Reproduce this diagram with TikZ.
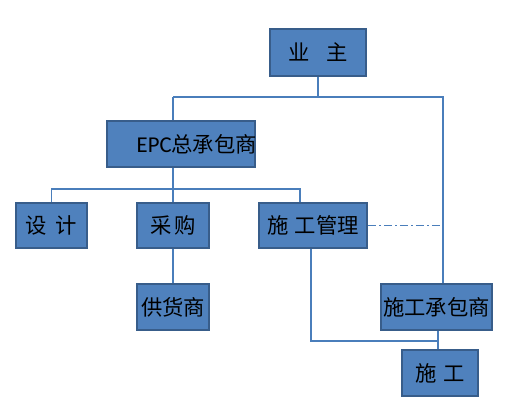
\documentclass[tikz,border=0pt]{standalone}
\usepackage{fontspec}
\setmainfont{Noto Sans CJK SC}
\newfontfamily\latfont{Carlito}
\usetikzlibrary{backgrounds}
\definecolor{boxfill}{HTML}{4F81BD}
\definecolor{boxline}{HTML}{385D8A}
\definecolor{conn}{HTML}{4A7EBB}
\begin{document}
\begin{tikzpicture}[x=0.75pt,y=-0.75pt,
  box/.style={draw=boxline,fill=boxfill,line width=1.3pt,inner sep=0pt,
    font=\fontsize{16pt}{18pt}\selectfont,text=black},
  lbl/.style={inner sep=0pt,font=\fontsize{16pt}{18pt}\selectfont,text=black},
  conline/.style={draw=conn,line width=0.8pt},
  dashdotline/.style={draw=conn,line width=0.8pt,dash pattern=on 6pt off 2.5pt on 1pt off 2.5pt}]
\useasboundingbox (0,0) rectangle (509,409);
% boxes
\node[box,minimum width=72pt,minimum height=35pt] (yz) at (318,52.5) {业\hspace{0.8em}主};
\node[box,minimum width=111pt,minimum height=35pt] (epc) at (181,144) {};
\node[lbl,anchor=east] (epct) at ([xshift=1]epc.east) {{\latfont\fontsize{17pt}{18pt}\selectfont EPC}总承包商};
\node[box,minimum width=53pt,minimum height=34pt] (sj) at (51.5,225.5) {设\hspace{0.4em}计};
\node[box,minimum width=54pt,minimum height=34pt] (cg) at (173,225.5) {采\hspace{0.1em}购};
\node[box,minimum width=81pt,minimum height=34pt] (sgl) at (313,225.5) {施\hspace{0.3em}工管理};
\node[box,minimum width=54pt,minimum height=34.5pt] (ghs) at (173,307) {供货商};
\node[box,minimum width=83pt,minimum height=34.5pt] (cb) at (436.5,307) {施工承包商};
\node[box,minimum width=57pt,minimum height=34.5pt] (sg) at (440,373) {施\hspace{0.3em}工};
% junction coordinates
\coordinate (top) at (173,97);
\coordinate (topR) at (443,97);
\coordinate (mid) at (173,189);
\coordinate (midR) at (300,189);
\coordinate (low) at (311,341);
\coordinate (jn) at (438,341);
\begin{scope}[on background layer]
\draw[conline] (yz.south) -- (yz.south |- top);
\draw[conline] (top) -- (topR) -- (topR |- cb.north);
\draw[conline] (top) -- (mid);
\draw[conline] (sj.north) |- (midR) -- (midR |- sgl.north);
\draw[conline] (mid) -- (cg.north);
\draw[conline] (cg.south) -- (ghs.north);
\draw[conline] (low |- sgl.south) -- (low) -- (jn);
\draw[conline] (jn |- cb.south) -- (jn |- sg.north);
\draw[dashdotline] (sgl.east) -- (sgl.east -| topR);
\end{scope}
\end{tikzpicture}
\end{document}
